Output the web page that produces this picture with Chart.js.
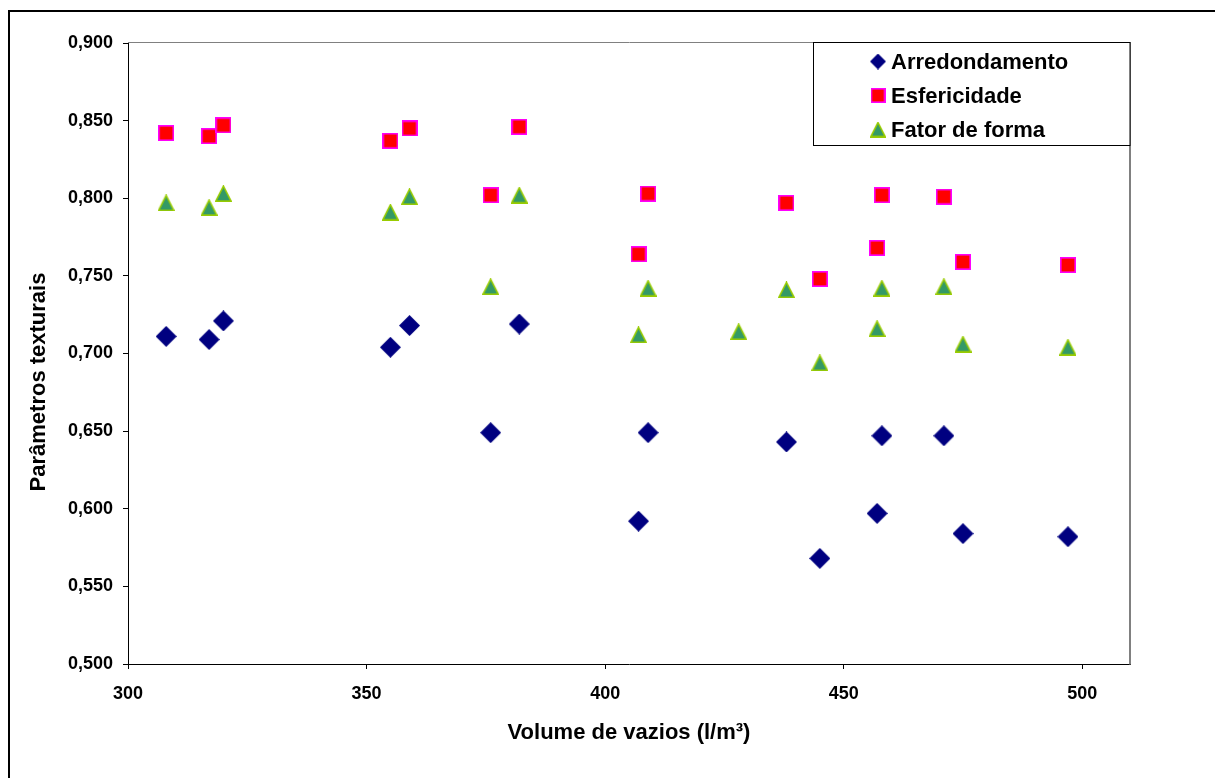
<!DOCTYPE html>
<html>
<head>
<meta charset="utf-8">
<script src="https://cdn.jsdelivr.net/npm/chart.js@4/dist/chart.umd.min.js"></script>
<style>
  html, body { margin: 0; padding: 0; background: #ffffff; }
  #wrap { position: relative; width: 1215px; height: 778px; }
</style>
</head>
<body>
<div id="wrap"><canvas id="c" width="1215" height="778"></canvas></div>
<script>
// ---- data ----
const volumeVazios = [308, 317, 320, 355, 359, 376, 382, 407, 409, 428, 438, 445, 457, 458, 471, 475, 497];
const arredondamento = [0.711, 0.709, 0.721, 0.704, 0.718, 0.649, 0.719, 0.592, 0.649, null, 0.643, 0.568, 0.597, 0.647, 0.647, 0.584, 0.582];
const esfericidade   = [0.842, 0.840, 0.847, 0.837, 0.845, 0.802, 0.846, 0.764, 0.803, null, 0.797, 0.748, 0.768, 0.802, 0.801, 0.759, 0.757];
const fatorDeForma   = [0.797, 0.794, 0.803, 0.791, 0.801, 0.743, 0.802, 0.712, 0.742, 0.714, 0.741, 0.694, 0.716, 0.742, 0.743, 0.706, 0.704];
const seriesNames = ['Arredondamento', 'Esfericidade', 'Fator de forma'];
const xTitle = 'Volume de vazios (l/m\u00B3)';
const yTitle = 'Parâmetros texturais';
const xMin = 300, xMax = 510, xStep = 50;
const yMin = 0.5, yMax = 0.9, yStep = 0.05;

const FONT = '"Liberation Sans", Arial, sans-serif';

// ---- marker images ----
function makeDiamond(s) {
  const c = document.createElement('canvas'); c.width = s; c.height = s;
  const g = c.getContext('2d');
  g.fillStyle = '#000080';
  g.beginPath(); g.moveTo(s/2, 0); g.lineTo(s, s/2); g.lineTo(s/2, s); g.lineTo(0, s/2); g.closePath(); g.fill();
  return c;
}
function makeSquare(s) {
  const c = document.createElement('canvas'); c.width = s; c.height = s;
  const g = c.getContext('2d');
  g.fillStyle = '#FF00FF'; g.fillRect(0, 0, s, s);
  g.fillStyle = '#FF0000'; g.fillRect(1.6, 1.6, s - 3.2, s - 3.2);
  return c;
}
function makeTriangle(s) {
  const c = document.createElement('canvas'); c.width = s; c.height = s;
  const g = c.getContext('2d');
  g.beginPath(); g.moveTo(s/2, 1); g.lineTo(s - 0.8, s - 0.9); g.lineTo(0.8, s - 0.9); g.closePath();
  g.fillStyle = '#339966'; g.fill();
  g.lineWidth = 1.6; g.strokeStyle = '#99CC00'; g.lineJoin = 'miter'; g.stroke();
  return c;
}
const markers = [makeDiamond(21), makeSquare(16), makeTriangle(17)];
const legendMarkers = [makeDiamond(16), makeSquare(15), makeTriangle(16)];

function toPoints(ys) {
  return volumeVazios.map((x, i) => ({ x: x, y: ys[i] }));
}

const framePlugin = {
  id: 'frame',
  beforeDraw(chart) {
    const ctx = chart.ctx;
    ctx.save();
    ctx.fillStyle = '#ffffff';
    ctx.fillRect(0, 0, chart.width, chart.height);
    ctx.fillStyle = '#000000';
    ctx.fillRect(8, 10, 2, chart.height - 10);
    ctx.fillRect(8, 10, chart.width - 8, 2);
    ctx.restore();
  },
  beforeDatasetsDraw(chart) {
    const ctx = chart.ctx, a = chart.chartArea;
    ctx.save();
    ctx.strokeStyle = '#808080';
    ctx.lineWidth = 1;
    ctx.beginPath(); ctx.moveTo(a.left, a.top - 0.5); ctx.lineTo(a.right + 1, a.top - 0.5); ctx.stroke();
    ctx.lineWidth = 2;
    ctx.beginPath(); ctx.moveTo(a.right, a.top - 1); ctx.lineTo(a.right, a.bottom + 0.5); ctx.stroke();
    ctx.restore();
  },
  afterDraw(chart) {
    const ctx = chart.ctx, a = chart.chartArea;
    ctx.save();
    // y axis title (placed as in the reference, below the axis centre)
    ctx.font = 'bold 22px ' + FONT;
    ctx.fillStyle = '#000000';
    ctx.textAlign = 'center';
    ctx.textBaseline = 'middle';
    ctx.translate(39, 382);
    ctx.rotate(-Math.PI / 2);
    ctx.fillText(yTitle, 0, 0);
    ctx.restore();

    // legend box at top right inside plot area
    const bx = 813.5, by = a.top - 0.5, bw = a.right - 813.5, bh = 103;
    ctx.save();
    ctx.fillStyle = '#ffffff';
    ctx.fillRect(bx, by, bw, bh);
    ctx.strokeStyle = '#000000';
    ctx.lineWidth = 1;
    ctx.strokeRect(bx, by, bw, bh);
    ctx.font = 'bold 22px ' + FONT;
    ctx.fillStyle = '#000000';
    ctx.textBaseline = 'middle';
    ctx.textAlign = 'left';
    const rows = [61.5, 95.5, 129.5];
    seriesNames.forEach((name, i) => {
      const m = legendMarkers[i];
      ctx.drawImage(m, 878 - m.width / 2, rows[i] - m.height / 2);
      ctx.fillText(name, 891, rows[i] + 1);
    });
    ctx.restore();
  }
};

const ctx = document.getElementById('c').getContext('2d');
new Chart(ctx, {
  type: 'scatter',
  data: {
    datasets: [
      { label: seriesNames[0], data: toPoints(arredondamento), pointStyle: markers[0], pointRadius: 10, pointHoverRadius: 10 },
      { label: seriesNames[1], data: toPoints(esfericidade), pointStyle: markers[1], pointRadius: 8, pointHoverRadius: 8 },
      { label: seriesNames[2], data: toPoints(fatorDeForma), pointStyle: markers[2], pointRadius: 8, pointHoverRadius: 8 }
    ]
  },
  options: {
    responsive: false,
    animation: false,
    events: [],
    layout: { autoPadding: false, padding: { left: 0, top: 43, right: 85, bottom: 0 } },
    plugins: { legend: { display: false }, tooltip: { enabled: false } },
    scales: {
      x: {
        type: 'linear',
        min: xMin, max: xMax,
        afterBuildTicks(scale) { scale.ticks = scale.ticks.filter(t => Math.abs(t.value % xStep) < 1e-9); },
        afterFit(scale) { scale.height = 114; },
        ticks: { stepSize: xStep, color: '#000', padding: 14, font: { family: FONT, size: 18, weight: 'bold' }, maxRotation: 0, autoSkip: false },
        grid: { drawOnChartArea: false, drawTicks: true, tickLength: 5, color: '#000', lineWidth: 1 },
        border: { display: true, color: '#000', width: 1 },
        title: { display: true, text: xTitle, color: '#000', font: { family: FONT, size: 22, weight: 'bold' }, padding: { top: 0, bottom: 32 } }
      },
      y: {
        type: 'linear',
        min: yMin, max: yMax,
        afterFit(scale) { scale.width = 128; },
        ticks: {
          stepSize: yStep, color: '#000', padding: 10,
          font: { family: FONT, size: 18, weight: 'bold' },
          callback: (v) => Number(v).toFixed(3).replace('.', ',')
        },
        grid: { drawOnChartArea: false, drawTicks: true, tickLength: 5, color: '#000', lineWidth: 1 },
        border: { display: true, color: '#000', width: 1 },
        title: { display: false, text: yTitle }
      }
    }
  },
  plugins: [framePlugin]
});
</script>
</body>
</html>
